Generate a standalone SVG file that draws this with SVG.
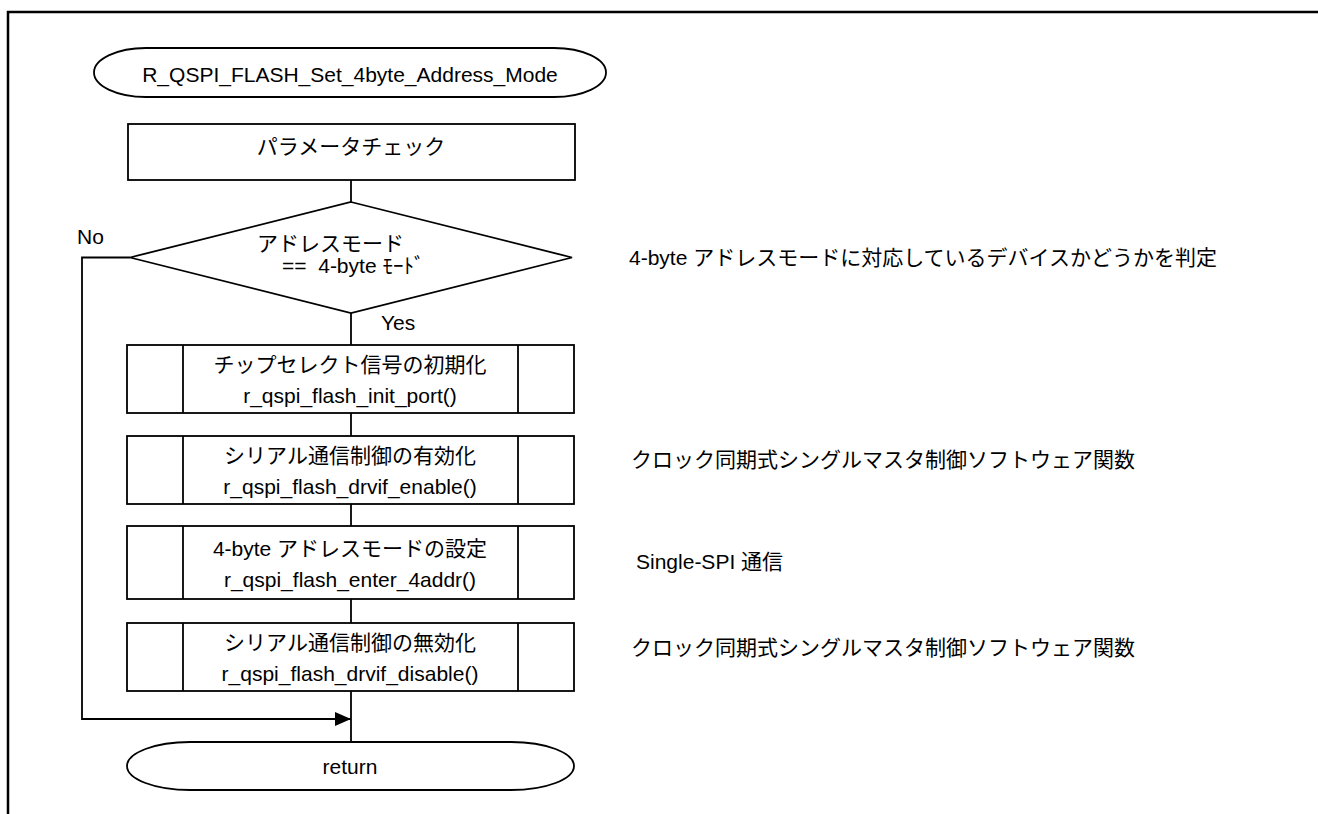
<svg xmlns="http://www.w3.org/2000/svg" width="1318" height="814" viewBox="0 0 1318 814">
<defs>
<style>
.s{fill:#fff;stroke:#000;stroke-width:1.8}
.ln{fill:none;stroke:#000;stroke-width:1.8}
.t{font-family:"Liberation Sans","Noto Sans CJK JP",sans-serif;font-size:21px;fill:#000}
.c{text-anchor:middle}
</style>
<marker id="arr" markerWidth="16" markerHeight="14" refX="16" refY="7" orient="auto" markerUnits="userSpaceOnUse">
<path d="M0,0 L16,7 L0,14 Z" fill="#000"/>
</marker>
</defs>
<rect width="1318" height="814" fill="#fff"/>
<path d="M8,814 V12 H1318" fill="none" stroke="#000" stroke-width="2.5"/>

<g id="connectors">
<line class="ln" x1="351" y1="180" x2="351" y2="202"/>
<line class="ln" x1="351" y1="313" x2="351" y2="345"/>
<line class="ln" x1="351" y1="413" x2="351" y2="436"/>
<line class="ln" x1="351" y1="504" x2="351" y2="526"/>
<line class="ln" x1="351" y1="599" x2="351" y2="623"/>
<line class="ln" x1="351" y1="691" x2="351" y2="742"/>
<path class="ln" d="M130,257.5 H82 V719 H351" marker-end="url(#arr)"/>
<text class="t" x="77" y="244">No</text>
<text class="t" x="381" y="330">Yes</text>
</g>

<g id="start">
<rect class="s" x="94" y="48" width="512" height="49" rx="52" ry="24.5"/>
<text class="t c" x="350" y="82">R_QSPI_FLASH_Set_4byte_Address_Mode</text>
</g>

<g id="param-check">
<rect class="s" x="128" y="124" width="447" height="56"/>
<text class="t c" x="351" y="154">パラメータチェック</text>
</g>

<g id="decision">
<polygon class="s" points="351,202 572,257.5 351,313 130,257.5"/>
<text class="t" x="257" y="251">アドレスモード</text>
<text class="t" x="282" y="273" xml:space="preserve">==  4-byte ﾓｰﾄﾞ</text>
</g>

<g id="init-port">
<rect class="s" x="127" y="345" width="447" height="68"/>
<line class="ln" x1="183" y1="345" x2="183" y2="413"/>
<line class="ln" x1="518" y1="345" x2="518" y2="413"/>
<text class="t c" x="350" y="372">チップセレクト信号の初期化</text>
<text class="t c" x="350" y="403">r_qspi_flash_init_port()</text>
</g>

<g id="drvif-enable">
<rect class="s" x="127" y="436" width="447" height="68"/>
<line class="ln" x1="183" y1="436" x2="183" y2="504"/>
<line class="ln" x1="518" y1="436" x2="518" y2="504"/>
<text class="t c" x="350" y="463">シリアル通信制御の有効化</text>
<text class="t c" x="350" y="494">r_qspi_flash_drvif_enable()</text>
</g>

<g id="enter-4addr">
<rect class="s" x="127" y="526" width="447" height="73"/>
<line class="ln" x1="183" y1="526" x2="183" y2="599"/>
<line class="ln" x1="518" y1="526" x2="518" y2="599"/>
<text class="t c" x="350" y="556">4-byte アドレスモードの設定</text>
<text class="t c" x="350" y="587">r_qspi_flash_enter_4addr()</text>
</g>

<g id="drvif-disable">
<rect class="s" x="127" y="623" width="447" height="68"/>
<line class="ln" x1="183" y1="623" x2="183" y2="691"/>
<line class="ln" x1="518" y1="623" x2="518" y2="691"/>
<text class="t c" x="350" y="650">シリアル通信制御の無効化</text>
<text class="t c" x="350" y="681">r_qspi_flash_drvif_disable()</text>
</g>

<g id="return">
<rect class="s" x="127" y="742" width="447" height="48" rx="63" ry="24"/>
<text class="t c" x="350" y="774">return</text>
</g>

<g id="notes">
<text class="t" x="629" y="265">4-byte アドレスモードに対応しているデバイスかどうかを判定</text>
<text class="t" x="631" y="467">クロック同期式シングルマスタ制御ソフトウェア関数</text>
<text class="t" x="636" y="569">Single-SPI 通信</text>
<text class="t" x="631" y="655">クロック同期式シングルマスタ制御ソフトウェア関数</text>
</g>
</svg>
